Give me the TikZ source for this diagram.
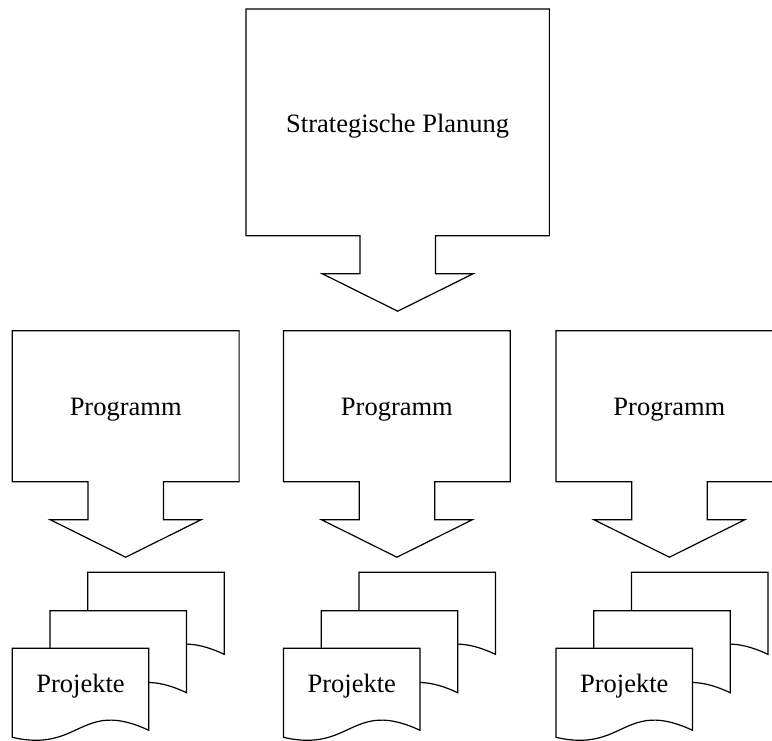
\documentclass[tikz,border=0pt]{standalone}
\usepackage{fontspec}
\setmainfont{Liberation Serif}
\begin{document}
\begin{tikzpicture}[x=1pt,y=-1pt,
  outline/.style={draw=black, line width=1.2pt, fill=white, line join=miter},
  txt/.style={inner sep=0pt, anchor=base, font=\fontsize{26.5}{30}\selectfont},
  % box with a block arrow pointing down, origin at top centre
  pics/downbox/.style n args={2}{code={
    \path[outline] ({-#1/2},0) -- ({#1/2},0) -- ({#1/2},#2) -- (37.75,#2)
      -- (37.75,{#2+38}) -- (75.5,{#2+38}) -- (0,{#2+75.5})
      -- (-75.5,{#2+38}) -- (-37.75,{#2+38}) -- (-37.75,#2)
      -- ({-#1/2},#2) -- cycle;
  }},
  % single document sheet with wavy bottom, origin at top left
  pics/docsheet/.style={code={
    \path[outline] (0,89) -- (0,0) -- (136.5,0) -- (136.5,82)
      .. controls (68.25,50) and (68.25,105) .. (0,89) -- cycle;
  }}
]
\clip (0,0) rectangle (772,740);
\path[use as bounding box] (0,0) rectangle (772,740);

% top level
\pic at (397.7,9) {downbox={303.3}{226.7}};
\node[txt] (strat) at (397.7,132) {Strategische Planung};

% three programme columns with their project stacks
\foreach \x [count=\i] in {12.3,283.5,556} {
  \pic at ({\x+113.4},330.7) {downbox={226.8}{151}};
  \node[txt] (prog\i) at ({\x+113.4},415) {Programm};
  \pic at ({\x+75.4},572.3) {docsheet};
  \pic at ({\x+37.7},610.7) {docsheet};
  \pic at (\x,648.3) {docsheet};
  \node[txt] (proj\i) at ({\x+68.25},692) {Projekte};
}
\end{tikzpicture}
\end{document}
